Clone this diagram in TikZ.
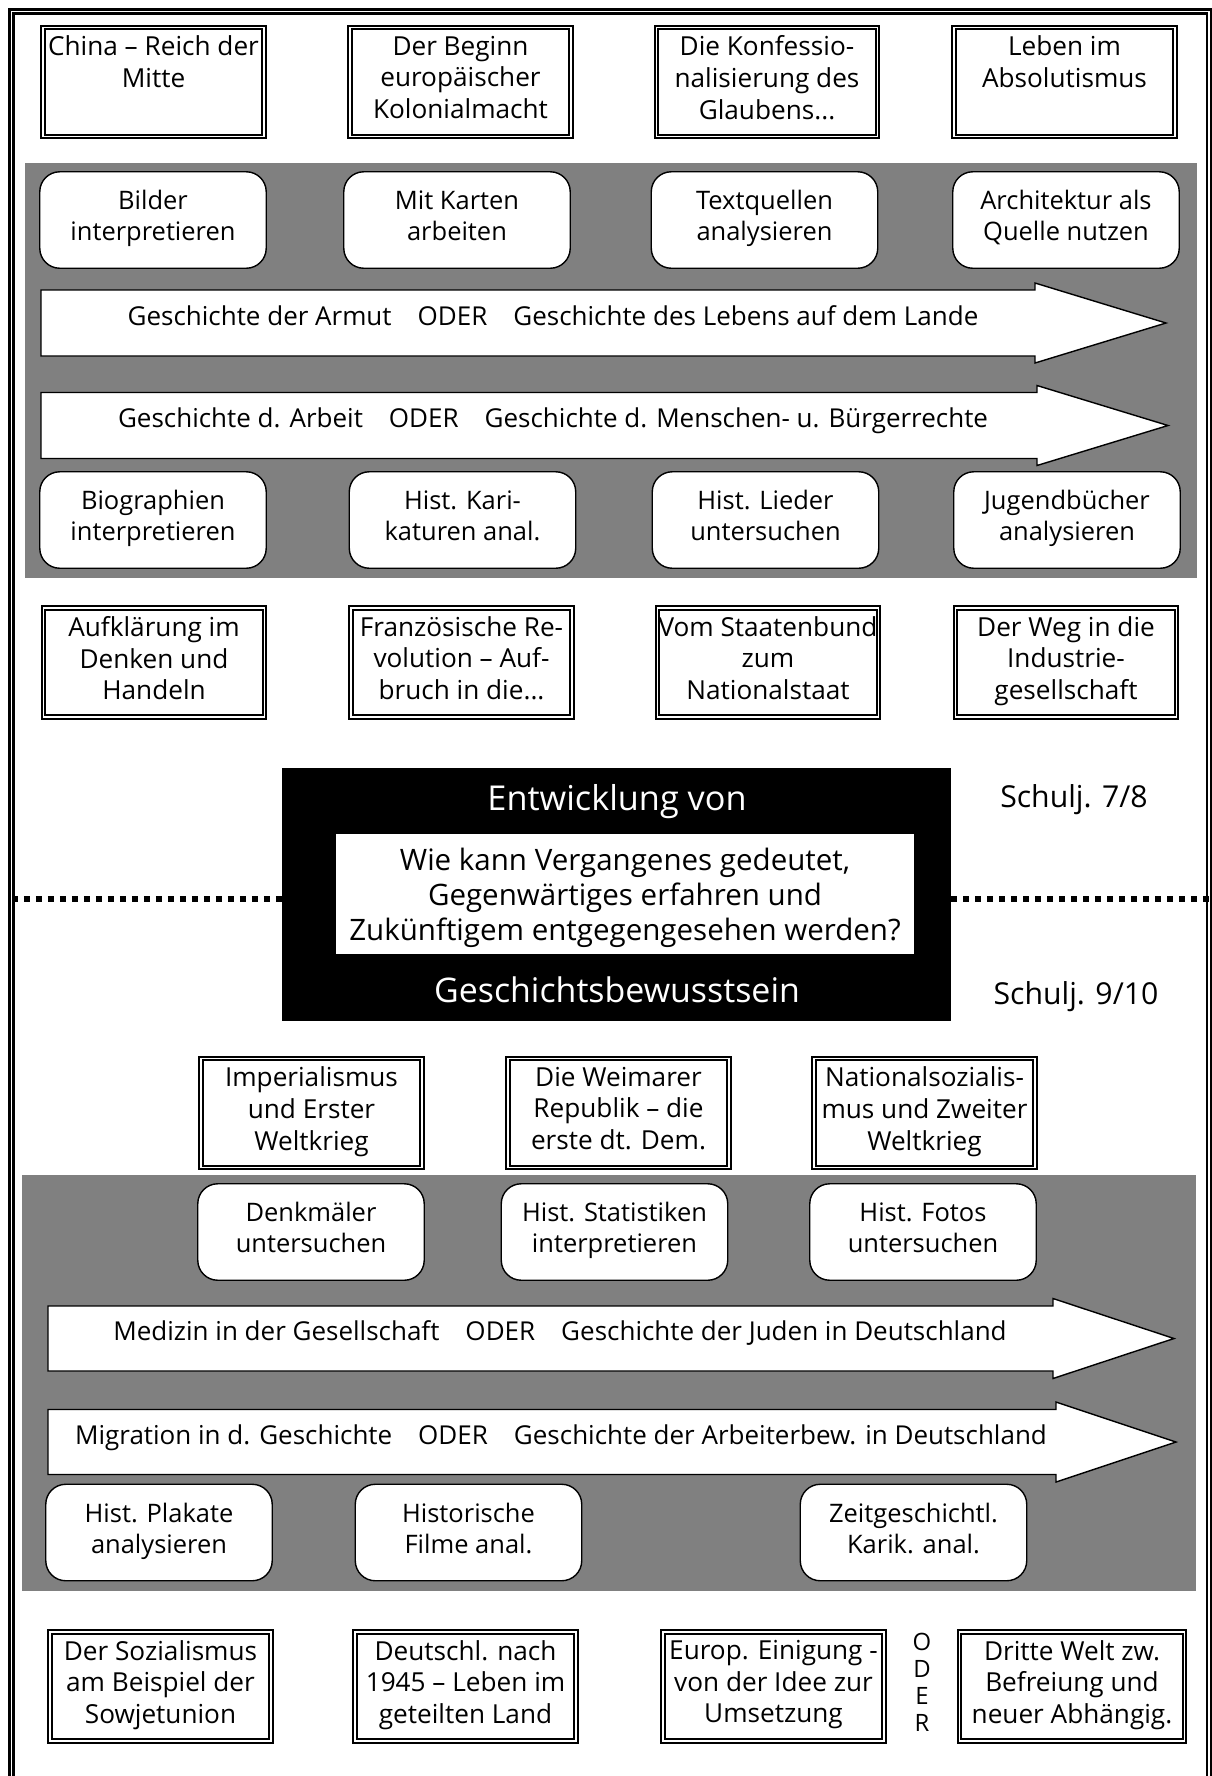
\documentclass[tikz,border=0pt]{standalone}
\usepackage{fontspec}
\setmainfont{Open Sans}
\definecolor{bandgray}{RGB}{128,128,128}
\begin{document}
\begin{tikzpicture}[
	x=0.02cm, y=-0.02cm,
	frame/.style={ draw, double, line width=1.2pt, double distance=1.1pt },
	topic/.style={ draw, double, line width=1.1pt, double distance=1.1pt, minimum width=4.42cm, minimum height=2.18cm, inner sep=0pt },
	topictext/.style={ anchor=north, align=center, inner sep=0pt, font=\fontsize{14.9}{18}\selectfont },
	method/.style={ draw, fill=white, line width=0.8pt, rounded corners=0.4cm, minimum width=4.53cm, minimum height=1.93cm, inner sep=0pt, align=center, font=\fontsize{14.5}{17.6}\selectfont, execute at begin node=\strut, execute at end node=\strut },
	timeline/.style={ draw, fill=white, line width=0.8pt },
	timetext/.style={ anchor=base, inner sep=0pt, font=\fontsize{14.8}{17}\selectfont },
	grade/.style={ inner sep=0pt, font=\fontsize{17.2}{20}\selectfont },
	dotline/.style={ line width=0.12cm, dash pattern=on 0.114cm off 0.126cm }
]
\useasboundingbox (0,0) rectangle (1212,1776);
\clip (0,0) rectangle (1212,1776);
\fill[white] (0,0) rectangle (1212,1776);
\draw[frame] (11.5,11.5) rectangle (1209,1800);

% Schuljahr 7/8
\foreach \x/\n/\t in {153.5/t1/{China – Reich der\\Mitte}, 460.5/t2/{Der Beginn\\europäischer\\Kolonialmacht}, 767/t3/{Die Konfessio-\\nalisierung des\\Glaubens...}, 1064.5/t4/{Leben im\\Absolutismus}} {
	\node[topic] (\n) at (\x,82) {};
	\node[topictext] (\n-text) at ([yshift=-0.18cm]\n.north) {\t};
}
\fill[bandgray] (25,163) rectangle (1197,578);
\foreach \x/\n/\t in {153/m1/{Bilder\\interpretieren}, 457/m2/{Mit Karten\\arbeiten}, 764.5/m3/{Textquellen\\analysieren}, 1066/m4/{Architektur als\\Quelle nutzen}}
	\node[method] (\n) at (\x,220) {\t};
\foreach \l/\m/\s/\r in {41/323/1035/1166, 41/425.5/1037/1168}
	\draw[timeline] (\l,\m-33) -- (\s,\m-33) -- (\s,\m-40) -- (\r,\m) -- (\s,\m+40) -- (\s,\m+33) -- (\l,\m+33) -- cycle;
\node[timetext] (a1) at (553,325) {Geschichte der Armut\quad ODER\quad Geschichte des Lebens auf dem Lande};
\node[timetext] (a2) at (553,427.5) {Geschichte d. Arbeit\quad ODER\quad Geschichte d. Menschen- u. Bürgerrechte};
\foreach \x/\n/\t in {153/m5/{Biographien\\interpretieren}, 462.5/m6/{Hist. Kari-\\katuren anal.}, 765.5/m7/{Hist. Lieder\\untersuchen}, 1067/m8/{Jugendbücher\\analysieren}}
	\node[method] (\n) at (\x,520) {\t};
\foreach \x/\n/\t in {154/t5/{Aufklärung im\\Denken und\\Handeln}, 461.5/t6/{Französische Re-\\volution – Auf-\\bruch in die...}, 768/t7/{Vom Staatenbund\\zum\\Nationalstaat}, 1066/t8/{Der Weg in die\\Industrie-\\gesellschaft}} {
	\node[topic] (\n) at (\x,662.5) {};
	\node[topictext] (\n-text) at ([yshift=-0.18cm]\n.north) {\t};
}

% Mitte
\node[fill=black, minimum width=13.38cm, minimum height=5.06cm, inner sep=0pt] (core) at (616.5,894.5) {};
\node[fill=white, minimum width=11.56cm, minimum height=2.4cm, inner sep=0pt] (question) at (625,894) {};
\node[inner sep=0pt, align=center, font=\fontsize{16.8}{19.9}\selectfont] (question-text) at ([yshift=-0.07cm]question.center) {Wie kann Vergangenes gedeutet,\\Gegenwärtiges erfahren und\\Zukünftigem entgegengesehen werden?};
\node[white, inner sep=0pt, font=\fontsize{19.5}{22}\selectfont] (top) at (617,802) {Entwicklung von};
\node[white, inner sep=0pt, font=\fontsize{19.3}{22}\selectfont] (bottom) at (617,990) {Geschichtsbewusstsein};
\coordinate (sepL) at (12,898.5);
\coordinate (sepR) at (1212,898.5);
\draw[dotline] (sepL) -- (sepL -| core.west);
\draw[dotline] (sepR -| core.east) -- (sepR);
\node[grade] (g78) at (1074,800) {Schulj. 7/8};
\node[grade] (g910) at (1076,997) {Schulj. 9/10};

% Schuljahr 9/10
\foreach \x/\n/\t in {311.5/t9/{Imperialismus\\und Erster\\Weltkrieg}, 618.5/t10/{Die Weimarer\\Republik – die\\erste dt. Dem.}, 924.5/t11/{Nationalsozialis-\\mus und Zweiter\\Weltkrieg}} {
	\node[topic] (\n) at (\x,1113) {};
	\node[topictext] (\n-text) at ([yshift=-0.18cm]\n.north) {\t};
}
\fill[bandgray] (22,1175) rectangle (1196,1591);
\foreach \x/\n/\t in {311/m9/{Denkmäler\\untersuchen}, 614.5/m10/{Hist. Statistiken\\interpretieren}, 923/m11/{Hist. Fotos\\untersuchen}}
	\node[method] (\n) at (\x,1232) {\t};
\foreach \l/\m/\s/\r in {48/1338.5/1053/1174, 48/1442/1056/1176}
	\draw[timeline] (\l,\m-32.5) -- (\s,\m-32.5) -- (\s,\m-40) -- (\r,\m) -- (\s,\m+40) -- (\s,\m+32.5) -- (\l,\m+32.5) -- cycle;
\node[timetext] (a3) at (560,1340.5) {Medizin in der Gesellschaft\quad ODER\quad Geschichte der Juden in Deutschland};
\node[timetext] (a4) at (561,1444) {Migration in d. Geschichte\quad ODER\quad Geschichte der Arbeiterbew. in Deutschland};
\foreach \x/\n/\t in {159/m12/{Hist. Plakate\\analysieren}, 468.5/m13/{Historische\\Filme anal.}, 913.5/m14/{Zeitgeschichtl.\\Karik. anal.}}
	\node[method] (\n) at (\x,1532.5) {\t};
\foreach \x/\n/\t in {160.5/t12/{Der Sozialismus\\am Beispiel der\\Sowjetunion}, 465.5/t13/{Deutschl. nach\\1945 – Leben im\\geteilten Land}, 773.5/t14/{Europ. Einigung -\\von der Idee zur\\Umsetzung}} {
	\node[topic] (\n) at (\x,1686.5) {};
	\node[topictext] (\n-text) at ([yshift=-0.18cm]\n.north) {\t};
}
\node[topic, minimum width=4.5cm] (t15) at (1072,1686.5) {};
\node[topictext] (t15-text) at ([yshift=-0.18cm]t15.north) {Dritte Welt zw.\\Befreiung und\\neuer Abhängig.};
\node[inner sep=0pt, align=center, font=\fontsize{13.6}{15.4}\selectfont] (oder) at (922,1682.5) {O\\D\\E\\R};

\end{tikzpicture}
\end{document}
